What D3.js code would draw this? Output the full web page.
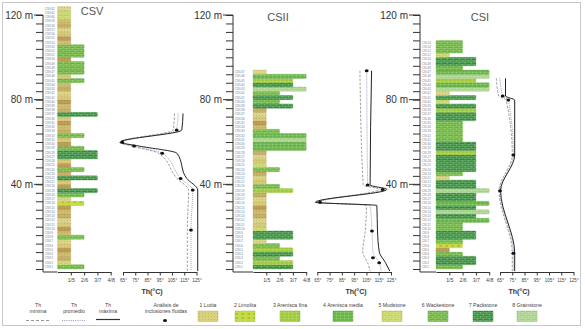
<!DOCTYPE html>
<html>
<head>
<meta charset="utf-8">
<script src="https://cdn.jsdelivr.net/npm/d3@7"></script>
<style>
body { margin: 0; background: #fff; }
svg { display: block; font-family: "Liberation Sans", Arial, sans-serif; }
</style>
</head>
<body>
<svg id="chart" width="585" height="329"></svg>
<script>
// lithology code of every 2 m sample, listed from the base (0 m) upward
var csvLith = [6, 5, 1, 1, 1, 1, 1, 6, 1, 1, 1, 1, 1, 1, 1, 2, 1, 6, 7, 1,
               1, 7, 1, 6, 1, 1, 7, 7, 6, 1, 1, 6, 1, 1, 1, 1, 7, 1, 1, 1,
               1, 1, 1, 1, 6, 1, 6, 6, 6, 1, 6, 6, 6, 1, 1, 1, 1, 1, 1, 5,
               5, 1];
var csiiLith = [7, 3, 6, 7, 3, 6, 1, 7, 7, 5, 1, 1, 1, 1, 1, 1, 1, 1, 3, 6,
                1, 1, 1, 6, 5, 1, 1, 1, 4, 4, 8, 4, 6, 1, 1, 1, 1, 1, 7, 6,
                7, 6, 8, 7, 3, 4, 1];
var csiLith = [6, 7, 7, 6, 1, 2, 6, 7, 7, 6, 6, 4, 7, 8, 7, 4, 7, 7, 8, 7,
               7, 1, 6, 7, 7, 7, 7, 3, 7, 7, 6, 6, 6, 6, 6, 7, 7, 3, 7, 5,
               7, 1, 8, 4, 3, 8, 4, 6, 7, 7, 5, 6, 6, 6];

// homogenisation temperatures (°C) against depth (m)
var csvThDepth = [73.5, 65.7, 59.9, 58.1, 54.7, 42.8, 37.3, 18.4, -1];
var csvThMin   = [107, 106, 62, 72, 94, 109, 118.5, 117.5, 117.5];
var csvThAvg   = [110, 108.8, 64.4, 74, 97, 112, 121.9, 120.5, 120.5];
var csvThMax   = [114, 113, 62.8, 78, 109, 117, 126, 126, 126];
var csvDotDepth = [65.7, 59.9, 58.1, 54.7, 42.8, 37.3, 18.4];
var csvDotTh    = [108.8, 64.4, 74, 97, 112, 121.9, 120.5];

var csiiThDepth = [93.7, 39.7, 37.6, 31.5, 30, 17.9, 8, 3.0, -1];
var csiiThMin   = [99.7, 102.4, 115, 65.5, 105, 104, 102, 106, 108];
var csiiThAvg   = [105.2, 106, 118.2, 67.2, 108, 109.5, 110.3, 115.4, 117];
var csiiThMax   = [109.2, 108, 121.7, 63.4, 113.5, 114, 115.5, 120.5, 124];
var csiiDotDepth = [93.7, 39.7, 37.6, 31.5, 17.9, 5.3, 3.0];
var csiiDotTh    = [105.2, 106, 118.2, 67.2, 109.5, 110.3, 115.4];

var csiThDepth = [90.1, 81.7, 79.8, 53.9, 37, 7.4, -1];
var csiThMin   = [62, 64, 70, 75, 64.2, 75, 75];
var csiThAvg   = [65, 67.2, 71.8, 75.9, 65, 75.9, 75.9];
var csiThMax   = [69.5, 69.5, 77, 77, 65.5, 77, 77];
var csiDotDepth = [81.7, 79.8, 53.9, 37, 7.4];
var csiDotTh    = [67.2, 71.8, 75.9, 65, 75.9];

var thTicks = [65, 75, 85, 95, 105, 115, 125];
var widthLabels = ['1/5', '2/6', '3/7', '4/8'];
var depthLabels = [40, 80, 120];
var lithNames = ['Lutita', 'Limolita', 'Arenisca fina', 'Arenisca media',
                 'Mudstone', 'Wackestone', 'Packstone', 'Grainstone'];

var lithColor = {1: '#d9d17c', 2: '#c6dc45', 3: '#9fcb3c', 4: '#66b648',
                 5: '#c3d45c', 6: '#66b43c', 7: '#2f8c3e', 8: '#a3d28b'};
var lutitaShades = ['#d6cb78', '#c9b066', '#c09c58', '#ddd688', '#cfbf70'];
var lithPattern = {1: 'dots', 2: 'dash', 3: 'grid', 4: 'grid',
                   5: 'brick', 6: 'brick', 7: 'brick', 8: 'brick'};

var svg = d3.select('#chart');
var depth = d3.scaleLinear().domain([0, 120]).range([269, 15]);
var unit = 13.3;
var baseY = 272;

var defs = svg.append('defs');
function pattern(id, w, h, draw) {
    var p = defs.append('pattern')
        .attr('id', id)
        .attr('patternUnits', 'userSpaceOnUse')
        .attr('width', w)
        .attr('height', h);
    draw(p);
}
pattern('dots', 3, 3, function (p) {
    p.append('circle').attr('cx', 1.5).attr('cy', 1.5).attr('r', 0.4)
        .attr('fill', 'rgba(90,70,20,0.4)');
});
pattern('dash', 6, 4, function (p) {
    p.append('path').attr('d', 'M1.5,2h2.5')
        .attr('stroke', 'rgba(30,50,0,0.55)').attr('stroke-width', 0.6);
});
pattern('grid', 4, 3, function (p) {
    p.append('path').attr('d', 'M0,0.25H4M0.25,0V3')
        .attr('stroke', 'rgba(255,255,220,0.55)').attr('stroke-width', 0.5)
        .attr('stroke-dasharray', '0.8,0.6');
});
pattern('brick', 6, 4, function (p) {
    p.append('path').attr('d', 'M0,0.25H6M0,2.25H6M0.25,0V2M3.25,2V4')
        .attr('stroke', 'rgba(255,255,215,0.5)').attr('stroke-width', 0.5);
});

var panels = [
    {title: 'CSV', lith: csvLith, axisX: 43, base: 57.5, th: [123, 196.5],
     titleX: 92, titleY: 15, thLabelX: 152, labelEnd: 33,
     depthTh: csvThDepth, min: csvThMin, avg: csvThAvg, max: csvThMax,
     dotDepth: csvDotDepth, dotTh: csvDotTh},
    {title: 'CSII', lith: csiiLith, axisX: 233, base: 253, th: [317.3, 391],
     titleX: 278, titleY: 21, thLabelX: 356, labelEnd: 222,
     depthTh: csiiThDepth, min: csiiThMin, avg: csiiThAvg, max: csiiThMax,
     dotDepth: csiiDotDepth, dotTh: csiiDotTh},
    {title: 'CSI', lith: csiLith, axisX: 420, base: 436, th: [500, 573.5],
     titleX: 480, titleY: 21, thLabelX: 519, labelEnd: 408,
     depthTh: csiThDepth, min: csiThMin, avg: csiThAvg, max: csiThMax,
     dotDepth: csiDotDepth, dotTh: csiDotTh}
];

// outer frame
svg.append('rect')
    .attr('x', 2.5).attr('y', 2.5).attr('width', 578).attr('height', 323)
    .attr('fill', 'none').attr('stroke', '#c8c8c8');

panels.forEach(function (p) {
    var g = svg.append('g');

    // depth axis
    g.append('g')
        .attr('transform', 'translate(' + p.axisX + ',0)')
        .call(d3.axisLeft(depth).tickValues(d3.range(0, 121, 4))
            .tickSize(7).tickSizeOuter(0).tickFormat(''))
        .call(function (a) {
            a.select('.domain').remove();
            a.selectAll('line').attr('stroke', '#333').attr('stroke-width', 1);
        });
    g.append('line')
        .attr('x1', p.axisX).attr('x2', p.axisX)
        .attr('y1', depth(120)).attr('y2', baseY)
        .attr('stroke', '#333').attr('stroke-width', 1);

    depthLabels.forEach(function (v) {
        g.append('line')
            .attr('x1', p.labelEnd + 1).attr('x2', p.axisX)
            .attr('y1', depth(v)).attr('y2', depth(v))
            .attr('stroke', '#333').attr('stroke-width', 1);
        g.append('text')
            .attr('x', p.labelEnd).attr('y', depth(v) + 3.5)
            .attr('text-anchor', 'end')
            .attr('font-size', 10).attr('fill', '#333')
            .text(v + ' m');
    });

    // title
    g.append('text')
        .attr('x', p.titleX).attr('y', p.titleY)
        .attr('text-anchor', 'middle')
        .attr('font-size', 11).attr('fill', '#555')
        .text(p.title);

    // lithology column
    var rows = p.lith.map(function (c, i) { return {c: c, i: i}; });
    function fillOf(d) {
        return d.c === 1 ? lutitaShades[(d.i * 3) % 5] : lithColor[d.c];
    }
    function w(d) { return unit * (((d.c - 1) % 4) + 1); }
    var bars = g.selectAll('.bar').data(rows).enter().append('g').attr('class', 'bar');
    bars.append('rect')
        .attr('x', p.base)
        .attr('y', function (d) { return depth(2 * d.i + 2); })
        .attr('width', w)
        .attr('height', function (d) { return depth(2 * d.i) - depth(2 * d.i + 2); })
        .attr('rx', 0.8)
        .attr('fill', fillOf)
        .attr('stroke', function (d) { return d3.color(fillOf(d)).darker(0.4); })
        .attr('stroke-width', 0.3);
    bars.append('rect')
        .attr('x', p.base)
        .attr('y', function (d) { return depth(2 * d.i + 2); })
        .attr('width', w)
        .attr('height', function (d) { return depth(2 * d.i) - depth(2 * d.i + 2); })
        .attr('fill', function (d) { return 'url(#' + lithPattern[d.c] + ')'; });
    bars.append('text')
        .attr('x', p.axisX + 2)
        .attr('y', function (d) { return depth(2 * d.i + 1) + 1; })
        .attr('font-size', 2.8).attr('fill', '#777')
        .text(function (d) { return p.title + '-' + (d.i + 1); });

    // width axis
    var wScale = d3.scaleLinear().domain([0, 4]).range([p.base, p.base + 4 * unit]);
    g.append('line')
        .attr('x1', p.axisX).attr('x2', p.base)
        .attr('y1', baseY).attr('y2', baseY)
        .attr('stroke', '#333');
    g.append('g')
        .attr('transform', 'translate(0,' + baseY + ')')
        .call(d3.axisBottom(wScale).tickValues([1, 2, 3, 4])
            .tickSize(3.5).tickSizeOuter(0).tickPadding(3)
            .tickFormat(function (d) { return widthLabels[d - 1]; }))
        .call(function (a) {
            a.selectAll('path,line').attr('stroke', '#333');
            a.selectAll('text').attr('font-size', 5.2).attr('fill', '#444')
                .attr('font-family', '"Liberation Sans", Arial, sans-serif');
        });

    // Th axis
    var t = d3.scaleLinear().domain([65, 125]).range(p.th);
    g.append('g')
        .attr('transform', 'translate(0,' + baseY + ')')
        .call(d3.axisBottom(t).tickValues(thTicks)
            .tickSize(3.5).tickSizeOuter(0).tickPadding(3)
            .tickFormat(function (d) { return d + '°'; }))
        .call(function (a) {
            a.selectAll('path,line').attr('stroke', '#333');
            a.selectAll('text').attr('font-size', 4.6).attr('fill', '#444')
                .attr('font-family', '"Liberation Sans", Arial, sans-serif');
        });
    g.append('text')
        .attr('x', p.thLabelX).attr('y', 294)
        .attr('text-anchor', 'middle')
        .attr('font-size', 7).attr('font-weight', 'bold').attr('fill', '#333')
        .text('Th(°C)');

    // Th curves
    function curve(vals) {
        return d3.line()
            .x(function (v) { return t(v); })
            .y(function (v, i) { return depth(p.depthTh[i]); })
            .curve(d3.curveMonotoneY)(vals);
    }
    g.append('path').attr('d', curve(p.min))
        .attr('fill', 'none').attr('stroke', '#888')
        .attr('stroke-width', 0.8).attr('stroke-dasharray', '2.5,1.5');
    g.append('path').attr('d', curve(p.avg))
        .attr('fill', 'none').attr('stroke', '#7f8bb8')
        .attr('stroke-width', 0.8).attr('stroke-dasharray', '1,1');
    g.append('path').attr('d', curve(p.max))
        .attr('fill', 'none').attr('stroke', '#222')
        .attr('stroke-width', 1);
    g.selectAll('.dot').data(p.dotDepth).enter().append('ellipse')
        .attr('cx', function (d, i) { return t(p.dotTh[i]); })
        .attr('cy', function (d) { return depth(d); })
        .attr('rx', 1.9).attr('ry', 1.5)
        .attr('fill', '#111');
});

// legend
var lg = svg.append('g').attr('font-size', 5.2).attr('fill', '#444').attr('text-anchor', 'middle');
var thKeys = [
    {x: 38, name: 'mínima', stroke: '#888', dash: '3,2', w: 0.9, y: 320.5},
    {x: 74, name: 'promedio', stroke: '#8a93b8', dash: '1,1.2', w: 0.9, y: 320.5},
    {x: 108, name: 'máxima', stroke: '#333', dash: null, w: 1.2, y: 319.5}
];
thKeys.forEach(function (k) {
    lg.append('text').attr('x', k.x).attr('y', 306.5).text('Th');
    lg.append('text').attr('x', k.x).attr('y', 313).text(k.name);
    lg.append('line')
        .attr('x1', k.x - 12).attr('x2', k.x + 12)
        .attr('y1', k.y).attr('y2', k.y)
        .attr('stroke', k.stroke).attr('stroke-width', k.w)
        .attr('stroke-dasharray', k.dash);
});
lg.append('text').attr('x', 166).attr('y', 306.5).text('Análisis de');
lg.append('text').attr('x', 166).attr('y', 313).text('inclusiones fluidas');
lg.append('ellipse').attr('cx', 165).attr('cy', 320.5).attr('rx', 2).attr('ry', 1.6).attr('fill', '#111');

var swatchX = [198, 235, 280, 333, 382, 428, 473, 517];
lithNames.forEach(function (name, i) {
    var c = i + 1;
    var cx = swatchX[i] + 10;
    lg.append('text').attr('x', cx).attr('y', 306.5).text(c + ' ' + name);
    lg.append('rect')
        .attr('x', swatchX[i]).attr('y', 311).attr('width', 20).attr('height', 10.5)
        .attr('fill', lithColor[c])
        .attr('stroke', d3.color(lithColor[c]).darker(0.6)).attr('stroke-width', 0.4);
    lg.append('rect')
        .attr('x', swatchX[i]).attr('y', 311).attr('width', 20).attr('height', 10.5)
        .attr('fill', 'url(#' + lithPattern[c] + ')');
});
</script>
</body>
</html>
